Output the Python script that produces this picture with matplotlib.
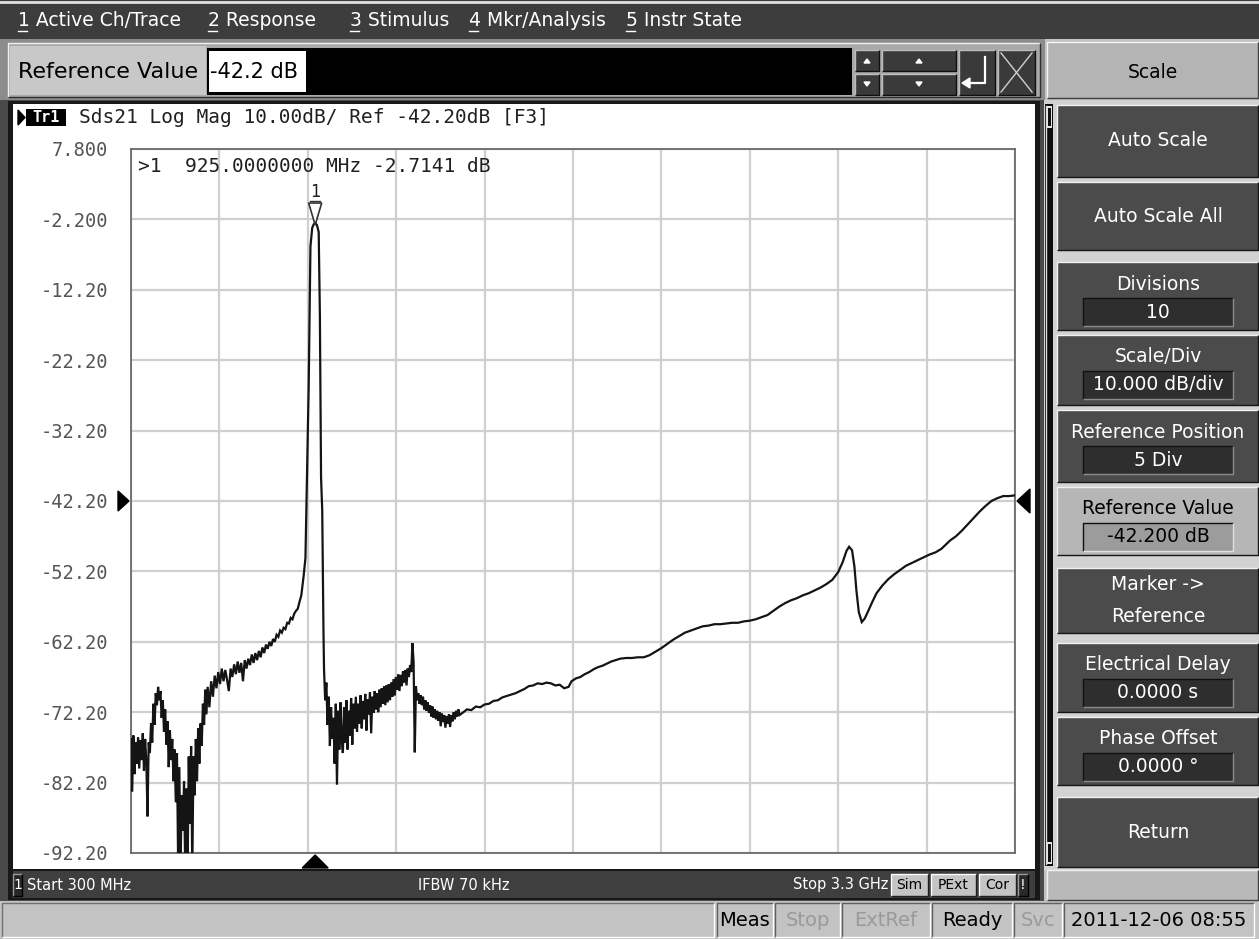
import numpy as np
import matplotlib
matplotlib.use("Agg")
import matplotlib.pyplot as plt
from matplotlib.patches import Rectangle, Polygon

start_mhz = 300
stop_mhz = 3300
freq_div_mhz = 300
y_top_db = 7.8
y_bottom_db = -92.2
y_tick_values = [7.8, -2.2, -12.2, -22.2, -32.2, -42.2, -52.2, -62.2, -72.2, -82.2, -92.2]
y_tick_labels = ['7.800', '-2.200', '-12.20', '-22.20', '-32.20', '-42.20',
                 '-52.20', '-62.20', '-72.20', '-82.20', '-92.20']
ref_level_db = -42.2
marker_freq_mhz = 925.0
marker_db = -2.7141

# noisy low band, sweep grid 4 MHz from 300 MHz
seg1_start, seg1_step = 300, 4
seg1_db = [-76.0, -83.5, -75.5, -81.0, -76.5, -79.5, -75.8, -80.2, -76.2, -79.0,
           -75.2, -80.5, -76.0, -79.2, -87.0, -76.5, -78.0, -73.8, -76.5, -71.0,
           -74.0, -69.5, -71.2, -68.6, -70.5, -69.2, -73.0, -70.5, -75.0, -71.8,
           -76.8, -73.5, -80.0, -74.8, -79.0, -76.0, -82.0, -77.5, -85.0, -78.0,
           -94.0, -80.0, -95.0, -84.0, -89.0, -82.0, -95.0, -83.0, -95.0, -78.5,
           -88.0, -77.0, -95.0, -78.5, -84.0, -76.0, -82.0, -74.5, -79.5, -73.8,
           -77.0, -71.0, -74.0, -69.0, -72.5, -68.6]
# rising skirt below the resonance, 6 MHz grid from 566 MHz
seg2_start, seg2_step = 566, 6
seg2_db = [-71.5, -67.8, -70.0, -67.0, -68.8, -66.5, -68.2, -66.0, -67.8, -66.2,
           -67.6, -69.2, -66.0, -67.2, -65.4, -66.8, -65.0, -66.6, -65.2, -67.8,
           -64.8, -66.0, -64.6, -65.5, -64.0, -65.2, -63.8, -64.8, -63.5, -64.4,
           -63.0, -63.8, -62.6, -63.2, -62.2, -62.8, -61.8, -62.2, -61.2, -61.5,
           -60.6, -60.9, -60.2, -60.4, -59.5, -59.6, -58.8, -59.0, -58.2, -57.8,
           -57.5, -56.5, -55.6]
# resonance
peak_freq = [886, 892, 897, 903, 909, 915, 920, 925, 931, 937, 941, 945, 949, 953, 955]
peak_db = [-52.8, -50.3, -39.1, -25.9, -6.0, -3.4, -2.9, -2.71, -3.0, -4.0,
           -15.8, -38.9, -43.6, -60.0, -66.0]
# noisy region above resonance, 4 MHz grid from 959 MHz
seg3_start, seg3_step = 959, 4
seg3_db = [-70.5, -68.0, -74.0, -70.0, -77.0, -71.5, -76.0, -73.0, -79.5, -71.0,
           -82.5, -72.0, -77.5, -70.8, -76.0, -78.0, -71.5, -76.5, -70.5, -77.5,
           -72.0, -75.5, -70.2, -76.8, -71.0, -74.5, -70.0, -75.0, -71.0, -73.8,
           -69.8, -74.5, -70.6, -73.2, -69.6, -74.8, -70.4, -72.5, -69.4, -75.2,
           -70.0, -72.3, -69.2, -71.8, -69.5, -72.2, -69.0, -71.5, -68.8, -71.0,
           -68.5, -71.2, -68.4, -70.8, -68.2, -70.5, -68.0, -70.0, -67.5, -69.8,
           -67.2, -69.0, -66.8, -69.2, -66.9, -68.5, -66.4, -68.0, -66.2, -68.4,
           -66.0, -67.2, -65.5, -66.5, -62.4, -65.0, -77.9, -68.5, -70.5, -69.5,
           -71.0, -69.8, -71.2, -70.0, -71.8, -70.5, -72.0, -70.8, -72.3, -71.2,
           -72.8, -71.4, -73.0, -71.8, -73.2, -72.0, -73.4, -72.2, -74.2, -72.4,
           -73.6, -72.6, -74.4, -72.8, -73.8, -72.5, -74.3, -72.6, -73.5, -72.2,
           -73.2, -72.0, -72.8, -71.8, -72.6]
# smooth upper band
smooth_freq = [1425, 1440, 1455, 1470, 1485, 1500, 1515, 1530, 1545, 1560, 1575, 1590,
               1605, 1620, 1635, 1650, 1665, 1680, 1695, 1710, 1725, 1740, 1755, 1770,
               1785, 1795, 1810, 1825, 1840, 1855, 1870, 1885, 1900, 1915, 1930, 1945,
               1960, 1980, 2000, 2020, 2040, 2060, 2080, 2100, 2120, 2140, 2160, 2180,
               2200, 2220, 2240, 2260, 2280, 2300, 2320, 2340, 2360, 2380, 2400, 2420,
               2440, 2460, 2480, 2500, 2520, 2540, 2560, 2580, 2600, 2620, 2640, 2660,
               2680, 2700, 2715, 2728, 2737, 2747, 2755, 2762, 2770, 2780, 2790, 2800,
               2815, 2830, 2850, 2870, 2890, 2910, 2930, 2950, 2970, 2990, 3010, 3030,
               3050, 3065, 3080, 3100, 3120, 3140, 3160, 3180, 3200, 3220, 3240, 3260,
               3280, 3300]
smooth_db = [-72.3, -71.8, -71.9, -71.4, -71.5, -71.1, -71.0, -70.6, -70.5, -70.1, -69.9, -69.7,
             -69.5, -69.2, -68.9, -68.5, -68.4, -68.1, -68.2, -68.0, -68.1, -68.4, -68.3, -68.8,
             -68.6, -67.8, -67.4, -67.2, -66.8, -66.5, -66.1, -65.8, -65.6, -65.3, -65.0, -64.8,
             -64.6, -64.5, -64.5, -64.4, -64.4, -64.1, -63.6, -63.1, -62.5, -61.9, -61.4, -60.9,
             -60.6, -60.3, -60.0, -59.9, -59.7, -59.7, -59.6, -59.5, -59.5, -59.3, -59.2, -59.0,
             -58.7, -58.4, -57.8, -57.2, -56.7, -56.3, -56.0, -55.6, -55.3, -54.9, -54.5, -54.0,
             -53.4, -52.3, -50.9, -49.3, -48.7, -49.2, -51.5, -55.0, -58.0, -59.4, -58.9, -58.0,
             -56.6, -55.3, -54.2, -53.3, -52.6, -52.0, -51.4, -51.0, -50.6, -50.2, -49.8, -49.5,
             -49.0, -48.4, -47.8, -47.2, -46.4, -45.5, -44.6, -43.7, -42.9, -42.2, -41.8, -41.5,
             -41.5, -41.4]

menu_items = ['1 Active Ch/Trace', '2 Response', '3 Stimulus', '4 Mkr/Analysis', '5 Instr State']
menu_x = [18, 208, 350, 469, 626]
softkeys = [('Auto Scale', None), ('Auto Scale All', None), ('Divisions', '10'),
            ('Scale/Div', '10.000 dB/div'), ('Reference Position', '5 Div'),
            ('Reference Value', '-42.200 dB'), ('Marker ->', 'Reference'),
            ('Electrical Delay', '0.0000 s'), ('Phase Offset', '0.0000 °'), ('Return', None)]
softkey_y = [(105, 177), (182, 250), (262, 330), (335, 405), (410, 482),
             (487, 555), (568, 633), (643, 712), (717, 785), (797, 867)]
status_items = ['Meas', 'Stop', 'ExtRef', 'Ready', 'Svc', '2011-12-06 08:55']
status_x = [(717, 775), (775, 842), (842, 932), (932, 1014), (1014, 1064), (1064, 1256)]
status_active = [True, False, False, True, False, True]

# ---------------- figure ----------------
W, H = 1259, 939
fig = plt.figure(figsize=(W / 100, H / 100), dpi=100)
fig.patch.set_facecolor('#c3c3c3')

ui = fig.add_axes([0, 0, 1, 1], zorder=0)
ui.set_xlim(0, W); ui.set_ylim(H, 0); ui.axis('off')

SANS = 'DejaVu Sans'
MONO = 'DejaVu Sans Mono'


def box(ax, x0, y0, x1, y1, fc, z=1):
    ax.add_patch(Rectangle((x0, y0), x1 - x0, y1 - y0, facecolor=fc,
                           edgecolor='none', linewidth=0, zorder=z))


def bevel(ax, x0, y0, x1, y1, fc, light='#e8e8e8', dark='#1c1c1c', z=1, sunken=False, lw=1.0):
    box(ax, x0, y0, x1, y1, fc, z=z)
    tl, br = (dark, light) if sunken else (light, dark)
    ax.plot([x0, x0, x1], [y1, y0, y0], color=tl, lw=lw, zorder=z + 0.1, solid_capstyle='butt')
    ax.plot([x0, x1, x1], [y1, y1, y0], color=br, lw=lw, zorder=z + 0.1, solid_capstyle='butt')


# --- menu bar ---
box(ui, 0, 0, W, 39, '#3d3d3d')
ui.plot([0, W], [1.5, 1.5], color='#e0e0e0', lw=2)
for t, x in zip(menu_items, menu_x):
    ui.text(x, 21, t, color='white', fontsize=13.5, family=SANS, va='center', ha='left')
    ui.plot([x, x + 9], [31, 31], color='white', lw=1)

# --- entry row ---
box(ui, 0, 39, 1045, 100, '#8c8c8c')
bevel(ui, 8, 43, 1040, 97, '#a9a9a9', light='#f0f0f0', dark='#303030')
box(ui, 10, 46, 206, 95, '#c8c8c8')
ui.text(18, 72, 'Reference Value', color='black', fontsize=16, family=SANS, va='center')
box(ui, 207, 48, 852, 95, 'black')
box(ui, 209, 51, 306, 92, 'white')
ui.text(210, 72, '-42.2 dB', color='black', fontsize=15, family=SANS, va='center')
for (x0, x1) in [(855, 879), (882, 956)]:
    for (y0, y1) in [(50, 71), (74, 95)]:
        bevel(ui, x0, y0, x1, y1, '#3a3a3a', light='#bdbdbd', dark='#101010')
    xc = (x0 + x1) / 2
    ui.add_patch(Polygon([[xc - 3, 63], [xc + 3, 63], [xc, 59]], color='white', zorder=3))
    ui.add_patch(Polygon([[xc - 3, 82], [xc + 3, 82], [xc, 86]], color='white', zorder=3))
bevel(ui, 959, 50, 995, 95, '#3a3a3a', light='#bdbdbd', dark='#101010')
ui.plot([985, 985, 968], [57, 83, 83], color='white', lw=1.6, zorder=3)
ui.add_patch(Polygon([[962, 83], [970, 78], [970, 88]], color='white', zorder=3))
bevel(ui, 998, 50, 1035, 95, '#3a3a3a', light='#bdbdbd', dark='#101010')
ui.plot([1001, 1032], [53, 92], color='#d0d0d0', lw=1, zorder=3)
ui.plot([1001, 1032], [92, 53], color='#d0d0d0', lw=1, zorder=3)
bevel(ui, 1047, 42, 1258, 98, '#b4b4b4', light='#f4f4f4', dark='#404040')
ui.text(1153, 72, 'Scale', color='black', fontsize=13.5, family=SANS, ha='center', va='center')

# --- channel window ---
box(ui, 0, 100, 1044, 902, '#4a4a4a')
box(ui, 8, 101, 1040, 900, '#181818')
box(ui, 13, 104, 1035, 869, 'white')
box(ui, 13, 871, 1035, 898, '#3f3f3f')
bevel(ui, 13, 874, 22, 896, '#262626', light='#9a9a9a', dark='#000000')
ui.text(17.5, 885, '1', color='white', fontsize=10, family=SANS, ha='center', va='center')
ui.text(27, 885, 'Start 300 MHz', color='white', fontsize=10.5, family=SANS, va='center')
ui.text(418, 885, 'IFBW 70 kHz', color='white', fontsize=10.5, family=SANS, va='center')
ui.text(888, 885, 'Stop 3.3 GHz', color='white', fontsize=10.5, family=SANS, va='center', ha='right')
for t, (x0, x1) in zip(['Sim', 'PExt', 'Cor'], [(891, 928), (931, 976), (979, 1016)]):
    bevel(ui, x0, 874, x1, 896, '#c4c4c4', light='#ffffff', dark='#202020')
    ui.text((x0 + x1) / 2, 885, t, color='black', fontsize=10, family=SANS, ha='center', va='center')
bevel(ui, 1018, 874, 1028, 896, '#2a2a2a', light='#9a9a9a', dark='#000000')
ui.text(1023, 885, '!', color='white', fontsize=10, family=SANS, ha='center', va='center')

# --- softkey column ---
box(ui, 1044, 100, W, 870, '#d2d2d2')
box(ui, 1045, 104, 1053, 866, '#0e0e0e')
ui.plot([1046.5, 1046.5], [106, 864], color='#dcdcdc', lw=1)
box(ui, 1047, 106, 1052, 128, '#e6e6e6')
box(ui, 1048, 108, 1051, 126, '#111111')
box(ui, 1047, 842, 1052, 864, '#e6e6e6')
box(ui, 1048, 844, 1051, 862, '#111111')
for (lab, val), (y0, y1) in zip(softkeys, softkey_y):
    hi = lab == 'Reference Value'
    fc = '#b6b6b6' if hi else '#4b4b4b'
    tc = 'black' if hi else 'white'
    bevel(ui, 1057, y0, 1258, y1, fc, light='#f2f2f2', dark='#151515')
    if lab == 'Marker ->':
        ui.text(1158, (y0 + y1) / 2 - 16, lab, color=tc, fontsize=13.5, family=SANS, ha='center', va='center')
        ui.text(1158, (y0 + y1) / 2 + 16, val, color=tc, fontsize=13.5, family=SANS, ha='center', va='center')
    elif val is None:
        ui.text(1158, (y0 + y1) / 2, lab, color=tc, fontsize=13.5, family=SANS, ha='center', va='center')
    else:
        ui.text(1158, y0 + 22, lab, color=tc, fontsize=13.5, family=SANS, ha='center', va='center')
        vfc = '#9c9c9c' if hi else '#2e2e2e'
        bevel(ui, 1083, y0 + 36, 1233, y0 + 64, vfc, light='#8a8a8a' if not hi else '#e0e0e0',
              dark='#101010', sunken=True)
        ui.text(1158, y0 + 50, val, color=tc, fontsize=13.5, family=SANS, ha='center', va='center')
bevel(ui, 1047, 870, 1258, 900, '#b9b9b9', light='#f2f2f2', dark='#404040')

# --- bottom status line ---
box(ui, 0, 901, W, H, '#c3c3c3')
bevel(ui, 2, 903, 714, 937, '#c3c3c3', light='#ffffff', dark='#707070', sunken=True)
for t, (x0, x1), act in zip(status_items, status_x, status_active):
    bevel(ui, x0, 903, x1 - 2, 937, '#c3c3c3', light='#ffffff', dark='#606060', sunken=True)
    ui.text((x0 + x1 - 2) / 2, 920, t, color='black' if act else '#9a9a9a',
            fontsize=14, family=SANS, ha='center', va='center')

# --- trace header ---
ui.add_patch(Polygon([[18, 110], [18, 125], [25, 117.5]], color='black', zorder=3))
box(ui, 26, 109, 66, 126, 'black', z=3)
ui.text(46, 117.5, 'Tr1', color='white', fontsize=11, family=MONO, weight='bold',
        ha='center', va='center', zorder=4)
ui.text(79, 117.5, 'Sds21 Log Mag 10.00dB/ Ref -42.20dB [F3]', color='#202020',
        fontsize=14, family=MONO, va='center')

# ---------------- measurement axes ----------------
L, R, T, B = 131, 1015, 149, 853
ax = fig.add_axes([L / W, 1 - B / H, (R - L) / W, (B - T) / H], zorder=2)
ax.patch.set_alpha(0)
ax.set_xlim(start_mhz, stop_mhz)
ax.set_ylim(y_bottom_db, y_top_db)
ax.set_xticks(np.arange(start_mhz, stop_mhz + 1, freq_div_mhz))
ax.set_xticklabels([])
ax.set_yticks(y_tick_values, labels=y_tick_labels)
ax.tick_params(axis='both', length=0)
ax.tick_params(axis='y', pad=16.5, labelsize=13.5, labelcolor='#555555')
for lbl in ax.get_yticklabels():
    lbl.set_fontfamily(MONO)
ax.grid(True, color='#cfcfcf', lw=1.6)
ax.set_axisbelow(True)
for s in ax.spines.values():
    s.set_color('#6a6a6a')
    s.set_linewidth(1.3)

f1 = seg1_start + seg1_step * np.arange(len(seg1_db))
f2 = seg2_start + seg2_step * np.arange(len(seg2_db))
f3 = seg3_start + seg3_step * np.arange(len(seg3_db))
freq = np.concatenate([f1, f2, peak_freq, f3, smooth_freq])
db = np.concatenate([seg1_db, seg2_db, peak_db, seg3_db, smooth_db])
ax.plot(freq, db, color='#141414', lw=1.6, zorder=3, solid_joinstyle='miter')

ax.text(0.008, 0.975, '>1  %.7f MHz %.4f dB' % (marker_freq_mhz, marker_db),
        transform=ax.transAxes, fontsize=14, family=MONO, color='#202020', va='center')

# ---------------- overlays (pixel coords via the axes transform) ----------------
ov = fig.add_axes([0, 0, 1, 1], zorder=5)
ov.set_xlim(0, W); ov.set_ylim(H, 0); ov.axis('off'); ov.patch.set_alpha(0)

fig.canvas.draw()
mx, my = ax.transData.transform((marker_freq_mhz, marker_db))
my = H - my
_, ry = ax.transData.transform((start_mhz, ref_level_db))
ry = H - ry
ov.add_patch(Polygon([[mx, my + 2], [mx - 6.5, my - 20], [mx + 6.5, my - 20]], closed=True,
                     facecolor='white', edgecolor='#333333', lw=1.2, zorder=6))
ov.text(mx, my - 31, '1', fontsize=12, family=MONO, color='#202020', ha='center', va='center')
ov.plot([mx - 5, mx + 5], [my - 22, my - 22], color='#333333', lw=1)
ov.add_patch(Polygon([[mx - 13, 868], [mx + 13, 868], [mx, 855]], color='black', zorder=6))
ov.add_patch(Polygon([[118, ry - 10], [118, ry + 10], [129, ry]], color='black', zorder=6))
ov.add_patch(Polygon([[1030, ry - 12], [1030, ry + 12], [1017, ry]], color='black', zorder=6))

fig.savefig('out.png', dpi=100, facecolor=fig.get_facecolor())
